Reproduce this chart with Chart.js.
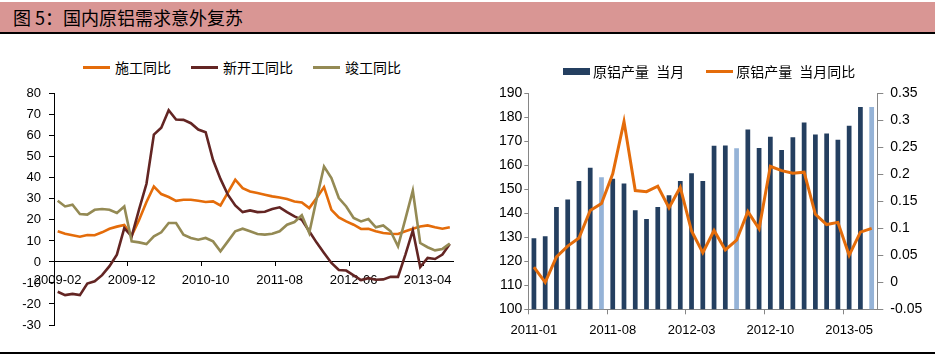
<!DOCTYPE html>
<html>
<head>
<meta charset="utf-8">
<script src="https://cdn.jsdelivr.net/npm/chart.js@4.4.1/dist/chart.umd.min.js"></script>
<style>
  html, body { margin:0; padding:0; background:#fff; }
  body { width:935px; height:356px; position:relative; overflow:hidden; font-family:"Noto Sans CJK SC", sans-serif; }
  #hdr { position:absolute; left:0; top:2px; width:935px; height:30px; background:#D99694; border-bottom:2px solid #000; }
  #hdr span { position:absolute; left:13px; top:3px; font-size:18px; line-height:24px; color:#000; font-family:"Noto Sans CJK SC", sans-serif; }
  #foot { position:absolute; left:0; top:352px; width:935px; height:0; border-top:2px solid #000; }
  .leg { position:absolute; display:flex; align-items:center; font-size:14px; color:#000; white-space:pre; }
  .leg .it { display:flex; align-items:center; }
  .leg .sw { display:inline-block; }
  canvas { position:absolute; }
</style>
</head>
<body>
<div id="hdr"><span>图 5：国内原铝需求意外复苏</span></div>
<canvas id="cL" width="470" height="267" style="left:0px; top:78px;"></canvas>
<canvas id="cR" width="465" height="272" style="left:470px; top:78px;"></canvas>
<div id="legL" class="leg" style="left:83px; top:57px;"></div>
<div id="legR" class="leg" style="left:563px; top:61px;"></div>
<div id="foot"></div>
<script>
// ---------- Left chart data ----------
const leftLabels = [
 "2009-02","2009-03","2009-04","2009-05","2009-06","2009-07","2009-08","2009-09","2009-10","2009-11","2009-12",
 "2010-01","2010-02","2010-03","2010-04","2010-05","2010-06","2010-07","2010-08","2010-09","2010-10","2010-11","2010-12",
 "2011-01","2011-02","2011-03","2011-04","2011-05","2011-06","2011-07","2011-08","2011-09","2011-10","2011-11","2011-12",
 "2012-01","2012-02","2012-03","2012-04","2012-05","2012-06","2012-07","2012-08","2012-09","2012-10","2012-11","2012-12",
 "2013-01","2013-02","2013-03","2013-04","2013-05","2013-06","2013-07"
];
const constructionYoY = [
 14.6,13.4,12.7,12.0,12.8,12.7,14.1,15.8,16.8,17.6,12.5,
 20.0,28.5,35.9,32.3,30.9,29.1,29.6,29.6,29.1,28.5,28.8,26.9,
 33.0,39.1,35.1,33.5,32.8,32.0,31.2,30.7,29.9,28.8,28.3,25.6,
 30.4,35.6,24.8,21.2,19.3,17.7,15.7,15.8,14.6,13.8,13.4,13.3,
 14.6,15.8,16.9,17.4,16.5,15.8,16.5
];
const newStartYoY = [
 -14.2,-15.8,-15.2,-15.8,-10.3,-9.2,-6.3,-2.0,3.5,16.1,12.2,
 25.0,37.2,60.6,63.9,72.2,67.8,67.6,66.0,63.0,61.7,48.5,39.5,
 32.0,26.9,23.7,24.5,23.7,23.9,25.2,26.0,23.7,21.7,20.1,14.6,
 9.2,4.3,-0.5,-3.8,-4.1,-6.4,-8.6,-7.7,-8.5,-8.3,-7.1,-7.1,
 3.5,15.0,-2.4,1.9,1.4,3.5,8.5
];
const completedYoY = [
 29.1,26.4,27.2,22.8,22.5,24.8,25.2,24.8,23.3,26.4,9.8,
 9.3,8.5,12.2,14.1,18.5,18.5,13.0,11.4,10.6,11.4,9.8,5.1,
 9.8,14.6,15.8,14.6,13.3,13.0,13.4,14.6,17.7,19.0,22.2,13.8,
 30.0,45.4,39.9,30.4,26.4,20.9,19.3,20.4,16.5,17.4,14.6,7.4,
 20.5,33.9,9.0,7.0,5.5,6.2,8.7
];
const leftSeriesNames = ["施工同比","新开工同比","竣工同比"];
const leftColors = ["#E46C0A","#632523","#948A54"];
const leftYTicks = { min:-30, max:80, step:10 };

// ---------- Right chart data ----------
const rightLabels = [
 "2011-01","2011-02","2011-03","2011-04","2011-05","2011-06","2011-07","2011-08","2011-09","2011-10","2011-11","2011-12",
 "2012-01","2012-02","2012-03","2012-04","2012-05","2012-06","2012-07","2012-08","2012-09","2012-10","2012-11","2012-12",
 "2013-01","2013-02","2013-03","2013-04","2013-05","2013-06","2013-07"
];
const aluOutput = [
 129.6,130.4,142.6,145.8,153.5,159.0,155.0,154.4,152.4,141.3,137.6,142.6,
 147.5,153.5,156.7,153.5,168.2,168.3,167.1,175.0,167.2,171.9,166.4,171.7,
 177.9,172.9,173.3,170.7,176.5,184.3,184.3
];
const aluOutputYoY = [
 0.028,0.000,0.047,0.067,0.082,0.133,0.146,0.201,0.298,0.170,0.168,0.178,
 0.138,0.176,0.095,0.055,0.096,0.060,0.078,0.131,0.099,0.215,0.207,0.202,
 0.204,0.126,0.107,0.111,0.050,0.093,0.100
];
const lightMonths = ["2011-07","2012-07","2013-07"];
const rightSeriesNames = ["原铝产量 当月","原铝产量 当月同比"];
const rightColors = { bar:"#243F60", barLight:"#95B3D7", line:"#E46C0A" };
const rightYTicks = { min:100, max:190, step:10 };
const rightY1Ticks = { min:-0.05, max:0.35, step:0.05 };

// ---------- Legends (HTML) ----------
function buildLegend(el, items, gapAfterSwatch, gapBetween) {
  items.forEach((it, i) => {
    const d = document.createElement('div'); d.className = 'it';
    if (i < items.length - 1) d.style.marginRight = gapBetween + 'px';
    const s = document.createElement('span'); s.className = 'sw';
    s.style.width = it.w + 'px'; s.style.height = it.h + 'px'; s.style.background = it.color;
    s.style.marginRight = gapAfterSwatch + 'px';
    const t = document.createElement('span'); t.textContent = it.text;
    if (it.ws) t.style.wordSpacing = it.ws + 'px';
    d.appendChild(s); d.appendChild(t); el.appendChild(d);
  });
}
buildLegend(document.getElementById('legL'),
  leftSeriesNames.map((n, i) => ({ text:n, color:leftColors[i], w:27, h:3 })), 5, 20);
buildLegend(document.getElementById('legR'), [
  { text:rightSeriesNames[0], color:rightColors.bar, w:27, h:7, ws:4 },
  { text:rightSeriesNames[1], color:rightColors.line, w:27, h:3, ws:4 }
], 3, 22);

const tickFont = { family:"Liberation Sans", size:13 };

// ---------- Left chart ----------
new Chart(document.getElementById('cL'), {
  type:'line',
  data:{
    labels:leftLabels,
    datasets:[
      { label:leftSeriesNames[0], data:constructionYoY, borderColor:leftColors[0], order:2 },
      { label:leftSeriesNames[1], data:newStartYoY, borderColor:leftColors[1], order:1 },
      { label:leftSeriesNames[2], data:completedYoY, borderColor:leftColors[2], order:0 }
    ].map(d => Object.assign(d, { borderWidth:2.6, pointRadius:0, tension:0, fill:false }))
  },
  options:{
    responsive:false, animation:false,
    layout:{ padding:{ left:0, right:16.5, top:0.5, bottom:20 } },
    plugins:{ legend:{ display:false }, tooltip:{ enabled:false } },
    scales:{
      x:{
        type:'category', position:{ y:0 }, offset:true,
        border:{ display:true, color:'#000', width:1 },
        grid:{ display:true, drawOnChartArea:false, drawTicks:true, tickLength:4, offset:true,
               color:(c) => (c.index !== undefined && c.index % 10 === 0) ? '#000' : 'rgba(0,0,0,0)' },
        ticks:{ autoSkip:false, maxRotation:0, minRotation:0, padding:7, color:'#000', font:tickFont,
                callback:(v, i) => i % 10 === 0 ? leftLabels[i] : '' }
      },
      y:{
        min:leftYTicks.min, max:leftYTicks.max,
        afterFit:(s) => { s.width = 54; },
        border:{ display:true, color:'#000', width:1 },
        grid:{ display:true, drawOnChartArea:false, drawTicks:true, tickLength:5, color:'#000' },
        ticks:{ stepSize:leftYTicks.step, padding:8, color:'#000', font:tickFont }
      }
    }
  }
});

// ---------- Right chart ----------
new Chart(document.getElementById('cR'), {
  data:{
    labels:rightLabels,
    datasets:[
      { type:'line', label:rightSeriesNames[1], data:aluOutputYoY, yAxisID:'y1',
        borderColor:rightColors.line, borderWidth:3, pointRadius:0, tension:0, order:0 },
      { type:'bar', label:rightSeriesNames[0], data:aluOutput, yAxisID:'y',
        backgroundColor:rightLabels.map(l => lightMonths.includes(l) ? rightColors.barLight : rightColors.bar),
        barPercentage:0.42, categoryPercentage:1.0, order:1 }
    ]
  },
  options:{
    responsive:false, animation:false,
    layout:{ padding:{ left:0, right:0, top:0, bottom:10.7 } },
    plugins:{ legend:{ display:false }, tooltip:{ enabled:false } },
    scales:{
      x:{
        type:'category', position:'bottom', offset:true,
        afterFit:(s) => { s.height = 30; },
        border:{ display:true, color:'#868686', width:1 },
        grid:{ display:true, drawOnChartArea:false, drawTicks:true, tickLength:5, offset:true,
               color:(c) => (c.index !== undefined && c.index % 7 === 0) ? '#868686' : 'rgba(0,0,0,0)' },
        ticks:{ autoSkip:false, maxRotation:0, minRotation:0, padding:8, color:'#000', font:tickFont,
                callback:(v, i) => i % 7 === 0 ? rightLabels[i] : '' }
      },
      y:{
        position:'left', min:rightYTicks.min, max:rightYTicks.max,
        afterFit:(s) => { s.width = 58.3; },
        border:{ display:true, color:'#868686', width:1 },
        grid:{ display:true, drawOnChartArea:false, drawTicks:true, tickLength:4, color:'#868686' },
        ticks:{ stepSize:rightYTicks.step, padding:2, color:'#000', font:{ family:"Liberation Sans", size:14 } }
      },
      y1:{
        position:'right', min:rightY1Ticks.min, max:rightY1Ticks.max,
        afterFit:(s) => { s.width = 57.7; },
        border:{ display:true, color:'#868686', width:1 },
        grid:{ display:true, drawOnChartArea:false, drawTicks:true, tickLength:6, color:'#868686' },
        ticks:{ stepSize:rightY1Ticks.step, padding:7, color:'#000', font:{ family:"Liberation Sans", size:14 },
                callback:(v) => (Math.round(v * 100) / 100).toString() }
      }
    }
  }
});
</script>
</body>
</html>
